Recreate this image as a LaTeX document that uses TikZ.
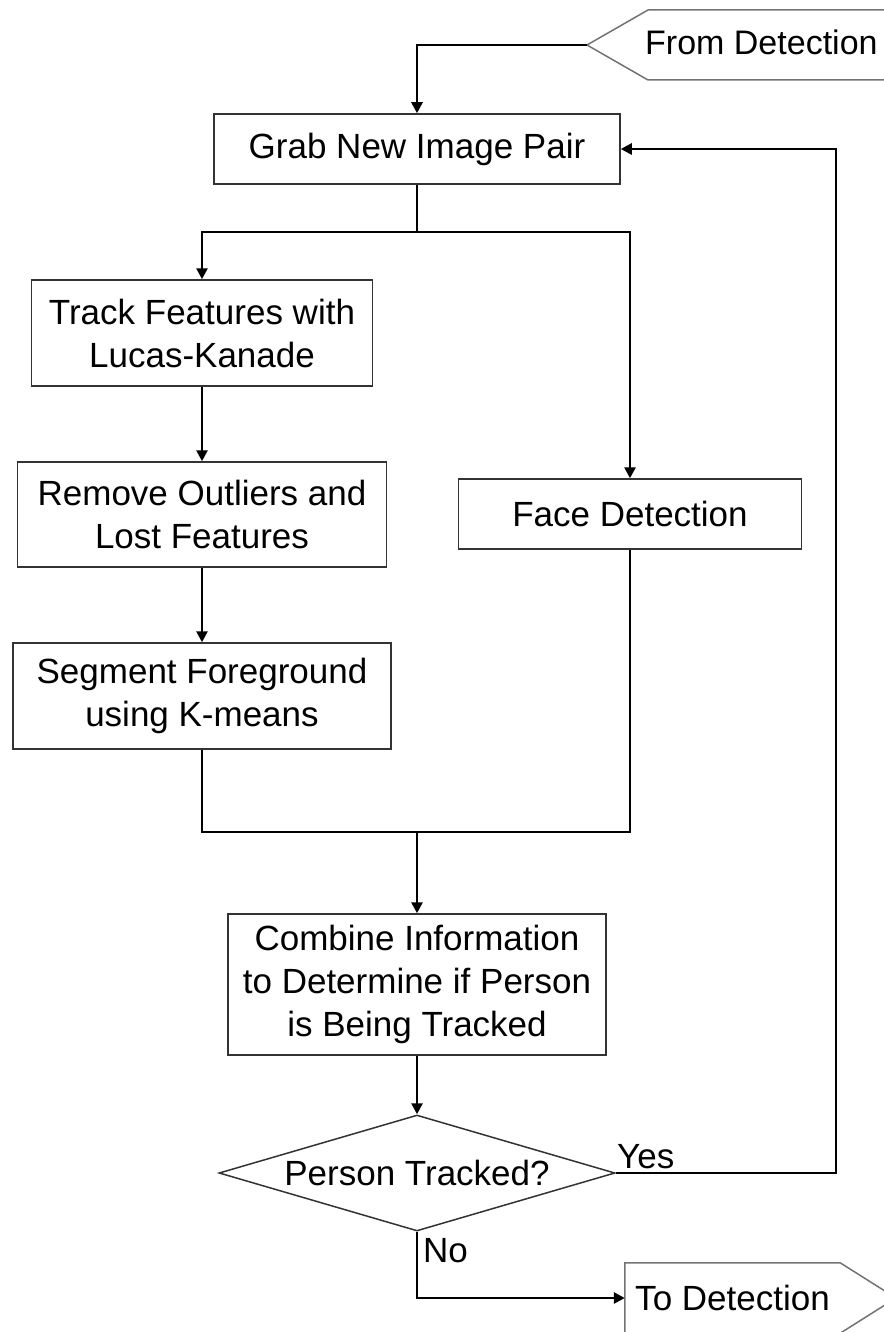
\documentclass[tikz,border=0pt]{standalone}
\usepackage{fontspec}
\setmainfont{Liberation Sans}
\usetikzlibrary{arrows.meta,shapes.geometric}
\begin{document}
\begin{tikzpicture}[x=1pt,y=-1pt,
  font=\fontsize{35}{43}\selectfont,
  box/.style={draw=black!80, line width=1.5pt, inner sep=0pt, align=center},
  conn/.style={line width=2.6pt, black},
  arr/.style={conn, -{Triangle[length=11pt,width=11pt]}},
  term/.style={draw=black!55, line width=1.5pt},
  lbl/.style={anchor=base west, inner sep=0pt}]
\useasboundingbox (0,0) rectangle (883,1332);
% boxes
\node[box, minimum width=406pt, minimum height=70pt] (grab) at (417,149) {Grab New Image Pair};
\node[box, minimum width=341pt, minimum height=106pt] (track) at (202,333) {Track Features with\\Lucas-Kanade};
\node[box, minimum width=369pt, minimum height=105pt] (remove) at (202,514.5) {Remove Outliers and\\Lost Features};
\node[box, minimum width=378pt, minimum height=106pt] (segment) at (202,696) {Segment Foreground\\using K-means};
\node[box, minimum width=343pt, minimum height=70pt] (face) at (630,514) {Face Detection};
\node[box, minimum width=378pt, minimum height=141pt] (combine) at (417,984.5) {Combine Information\\to Determine if Person\\is Being Tracked};
\node[draw=black!80, line width=1.5pt, diamond, aspect=3.41, inner sep=0pt,
      minimum width=396pt, minimum height=116pt] (dec) at (417,1173) {Person Tracked?};
% terminals
\node[lbl, font=\fontsize{34}{40}\selectfont] (fromdet) at (645,55) {From Detection};
\coordinate (fromtip) at (587,45);
\draw[term] (fromtip) -- (648,10) -- (905,10) -- (905,80) -- (648,80) -- cycle;
\node[minimum width=215pt, minimum height=70pt, inner sep=0pt] (todet) at (732.5,1298) {To Detection};
\draw[term] (todet.north west) -- (todet.north east) -- (896,1298) -- (todet.south east) -- (todet.south west) -- cycle;
% connectors
\draw[arr] (fromtip) -| (grab);
\coordinate (split) at (417,232);
\draw[conn] (grab) -- (split);
\draw[arr] (split) -| (track);
\draw[arr] (split) -| (face);
\draw[arr] (track) -- (remove);
\draw[arr] (remove) -- (segment);
\coordinate (merge) at (417,832);
\draw[conn] (segment) |- (merge);
\draw[conn] (face) |- (merge);
\draw[arr] (merge) -- (combine);
\draw[arr] (combine) -- (dec);
\coordinate (yesc) at (836,1173);
\draw[arr] (dec.east) -- (yesc) |- (grab.east);
\coordinate (noc) at (417,1298);
\draw[arr] (dec.south) -- (noc) -- (todet.west);
% labels
\node[lbl] (yes) at (617,1168) {Yes};
\node[lbl] (no) at (423,1262) {No};
\end{tikzpicture}
\end{document}
